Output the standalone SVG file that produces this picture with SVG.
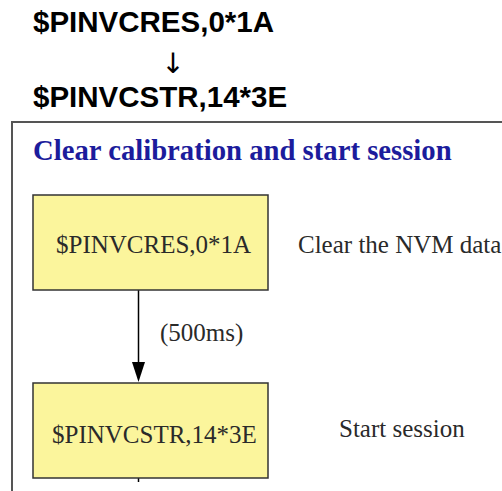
<svg xmlns="http://www.w3.org/2000/svg" width="502" height="491" viewBox="0 0 502 491">
  <style>
    .hdr { font-family: "Liberation Sans", Arial, sans-serif; font-weight: bold; font-size: 29.5px; fill: #000; }
    .ser { font-family: "Liberation Serif", "Times New Roman", serif; font-size: 25px; fill: #2a2a2a; }
    .title { font-family: "Liberation Serif", "Times New Roman", serif; font-weight: bold; font-size: 28.7px; fill: #1c1c9c; }
    .box { fill: #fbf59c; stroke: #333; stroke-width: 1.5; }
    .conn { stroke: #000; stroke-width: 1.5; fill: none; }
  </style>
  <rect width="502" height="491" fill="#fff"/>
  <g id="header">
    <text class="hdr" x="33" y="32">$PINVCRES,0*1A</text>
    <text x="173" y="73" text-anchor="middle" style="font-family: 'DejaVu Sans', sans-serif; font-size: 28px; fill:#000;">↓</text>
    <text class="hdr" x="33" y="107">$PINVCSTR,14*3E</text>
  </g>
  <g id="frame">
    <rect x="12" y="122" width="520" height="400" fill="#fff" stroke="#555" stroke-width="2"/>
    <text class="title" x="33" y="160">Clear calibration and start session</text>
  </g>
  <g id="connectors">
    <line class="conn" x1="138.5" y1="290" x2="138.5" y2="365"/>
    <path d="M132,362 L145,362 L138.5,382 Z" fill="#000"/>
    <line class="conn" x1="138.5" y1="478" x2="138.5" y2="482"/>
    <text class="ser" x="160" y="341">(500ms)</text>
  </g>
  <g id="node1">
    <rect class="box" x="33" y="195" width="235" height="95"/>
    <text class="ser" x="56" y="253">$PINVCRES,0*1A</text>
  </g>
  <g id="label1">
    <text class="ser" x="298" y="253">Clear the NVM data</text>
  </g>
  <g id="node2">
    <rect class="box" x="33" y="383" width="235" height="95"/>
    <text class="ser" x="52" y="443">$PINVCSTR,14*3E</text>
  </g>
  <g id="label2">
    <text class="ser" x="339" y="437">Start session</text>
  </g>
</svg>
